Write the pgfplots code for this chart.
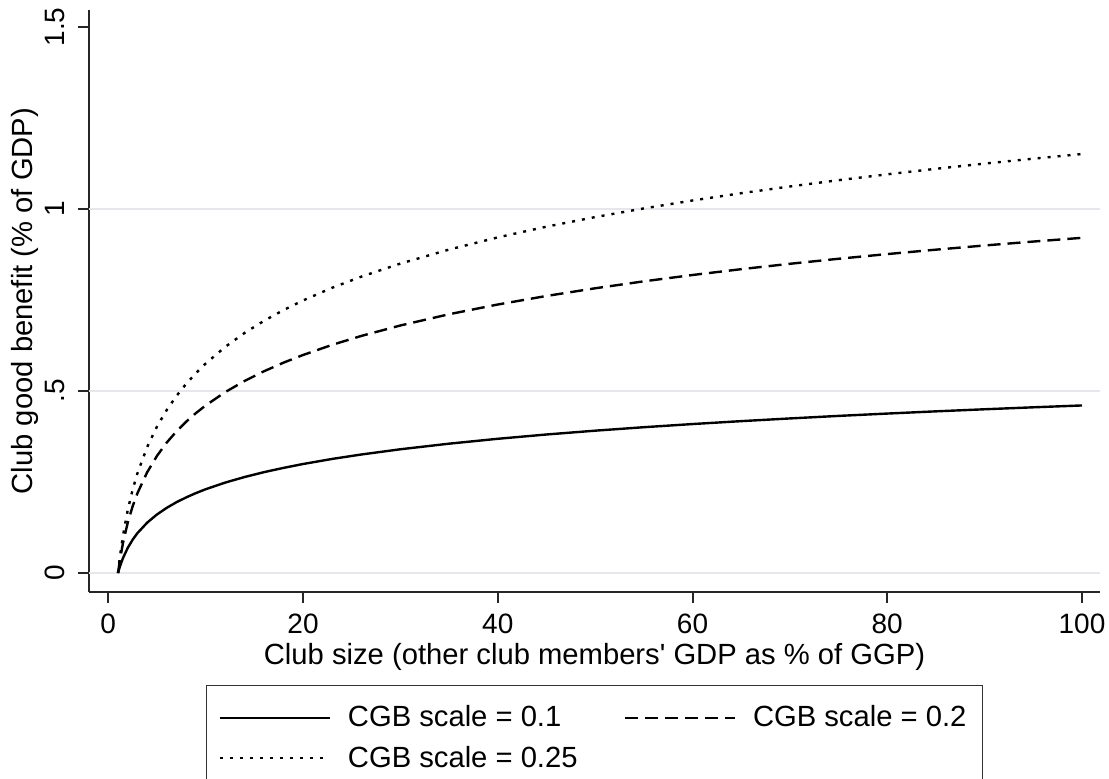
\documentclass[border=0pt]{standalone}
\usepackage{pgfplots}
\pgfplotsset{compat=1.18}
\usepackage{pgfplotstable}
\usepackage{fontspec}
\setmainfont{Liberation Sans}
\definecolor{gridc}{RGB}{232,230,234}
\pgfplotstableread{
x     a      b      c
1     0      0      0
1.1   0.0095 0.0191 0.0238
1.2   0.0182 0.0365 0.0456
1.5   0.0405 0.0811 0.1014
2     0.0693 0.1386 0.1733
2.5   0.0916 0.1833 0.2291
3     0.1099 0.2197 0.2747
4     0.1386 0.2773 0.3466
5     0.1609 0.3219 0.4024
6     0.1792 0.3584 0.4479
7     0.1946 0.3892 0.4865
8     0.2079 0.4159 0.5199
9     0.2197 0.4394 0.5493
10    0.2303 0.4605 0.5756
12    0.2485 0.4970 0.6212
14    0.2639 0.5278 0.6598
16    0.2773 0.5545 0.6931
18    0.2890 0.5781 0.7226
20    0.2996 0.5991 0.7489
23    0.3136 0.6271 0.7839
26    0.3258 0.6516 0.8145
30    0.3401 0.6802 0.8503
35    0.3555 0.7111 0.8888
40    0.3689 0.7378 0.9222
45    0.3807 0.7613 0.9517
50    0.3912 0.7824 0.9780
55    0.4007 0.8015 1.0018
60    0.4094 0.8189 1.0236
65    0.4174 0.8349 1.0436
70    0.4248 0.8497 1.0621
75    0.4318 0.8635 1.0794
80    0.4382 0.8764 1.0955
85    0.4443 0.8885 1.1107
90    0.4500 0.9000 1.1250
95    0.4554 0.9108 1.1385
100   0.4605 0.9210 1.1513
}\datatable
\begin{document}
\begin{tikzpicture}
\useasboundingbox (-44.5pt,-93.5pt) rectangle (510pt,296pt);
\begin{axis}[
  at={(0,0)}, anchor=south west,
  scale only axis,
  width=505.5pt, height=291pt,
  xmin=-1.98, xmax=101.85,
  ymin=-0.052, ymax=1.547,
  axis x line=bottom, axis y line=left,
  axis line style={-, line width=1pt, black!85},
  xtick={0,20,40,60,80,100},
  ytick={0,0.5,1,1.5},
  yticklabels={0,.5,1,1.5},
  extra y ticks={0,0.5,1},
  extra y tick labels={},
  extra y tick style={grid=major, major tick length=0pt},
  grid style={gridc, line width=0.8pt},
  tick align=outside,
  major tick length=5.5pt,
  tick style={line width=1pt, black!85},
  /pgf/number format/assume math mode=true,
  tick label style={font=\fontsize{14}{16}\selectfont},
  xticklabel style={inner sep=0pt, anchor=north, yshift=-5.5pt},
  yticklabel style={inner sep=0pt, anchor=base, rotate=90},
  yticklabel shift=6.5pt,
  xlabel={Club size (other club members\textquotesingle\ GDP as \% of GGP)},
  ylabel={Club good benefit (\% of GDP)},
  label style={font=\fontsize{14.6}{17}\selectfont},
  xlabel style={at={(axis description cs:0.5,0)}, anchor=north, inner sep=0pt, yshift=-25.5pt},
  ylabel style={at={(axis description cs:-0.0554,0.5)}, anchor=base, inner sep=0pt},
  legend columns=2,
  legend cell align=left,
  legend image code/.code={\draw[#1] (0pt,0pt) -- (55pt,0pt);},
  legend style={
    at={(0.5,0)}, anchor=north, yshift=-46.5pt,
    draw=black!80, line width=0.75pt,
    font=\fontsize{14.6}{17}\selectfont,
    inner xsep=6pt, inner ysep=8pt,
    row sep=4pt,
    /tikz/every odd column/.append style={column sep=6.5pt},
    /tikz/every even column/.append style={column sep=21pt},
  },
]
\addplot[black, line width=1.2pt, line join=round] table[x=x, y=a] {\datatable};
\addlegendentry{CGB scale = 0.1}
\addplot[black, line width=1.2pt, line join=round, dash pattern=on 6.5pt off 3.5pt] table[x=x, y=b] {\datatable};
\addlegendentry{CGB scale = 0.2}
\addplot[black, line width=1.2pt, line join=round, dash pattern=on 1.5pt off 3.5pt] table[x=x, y=c] {\datatable};
\addlegendentry{CGB scale = 0.25}
\end{axis}
\end{tikzpicture}
\end{document}
